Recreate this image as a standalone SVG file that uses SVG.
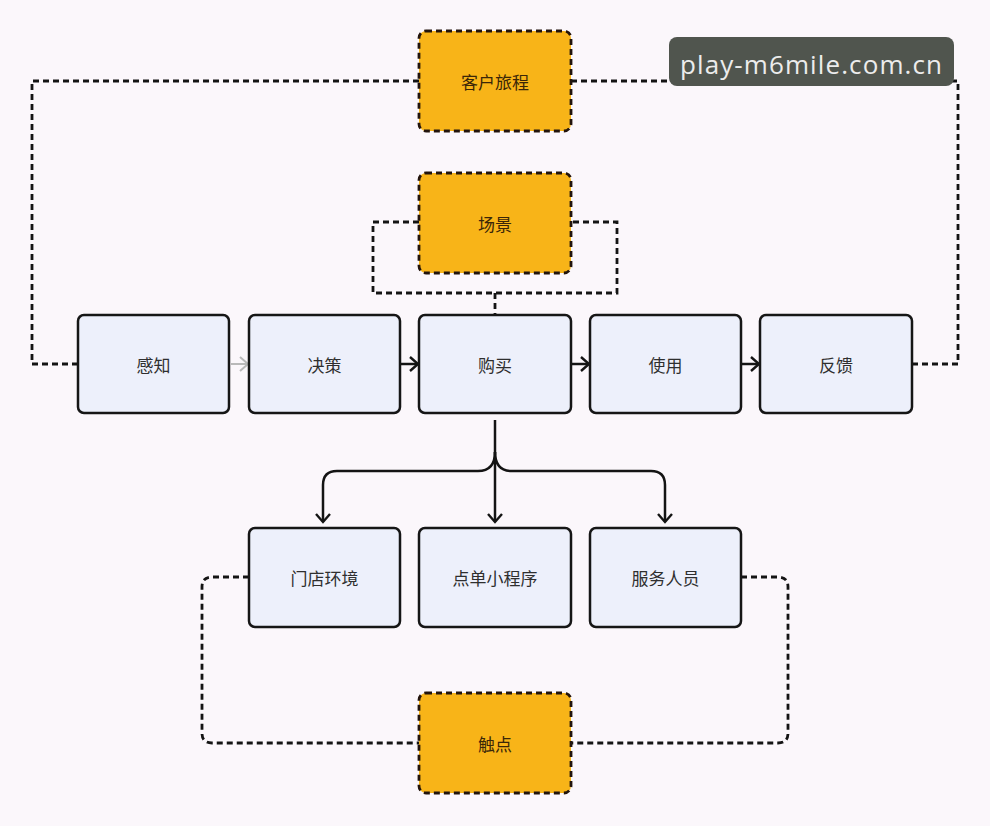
<svg xmlns="http://www.w3.org/2000/svg" width="990" height="826" viewBox="0 0 990 826">
<defs>
<style>
.n rect{fill:#edf0fb;stroke:#161616;stroke-width:2.5}
.o rect{fill:#f8b418;stroke:#22140c;stroke-width:2.8;stroke-dasharray:6 4}
.t{font-family:"Noto Sans CJK SC","Noto Sans",sans-serif;font-size:17px;fill:#2f2f2f;text-anchor:middle;dominant-baseline:central}
.ot{fill:#3a2608}
.d{fill:none;stroke:#141414;stroke-width:2.8;stroke-dasharray:6 4}
.a{fill:none;stroke:#141414;stroke-width:2.5}
</style>
<marker id="ah" viewBox="0 0 12 16" refX="10" refY="8" markerWidth="12" markerHeight="16" markerUnits="userSpaceOnUse" orient="auto">
<path d="M2,1 L10,8 L2,15" fill="none" stroke="#141414" stroke-width="2.4"/>
</marker>
<marker id="ahg" viewBox="0 0 12 16" refX="10" refY="8" markerWidth="12" markerHeight="16" markerUnits="userSpaceOnUse" orient="auto">
<path d="M2,1 L10,8 L2,15" fill="none" stroke="#b9b9b9" stroke-width="2"/>
</marker>
</defs>
<rect width="990" height="826" fill="#fbf7fb"/>
<g id="connectors">
<path class="d" d="M419,81 H32 V364 H78"/>
<path class="d" d="M571,81 H958 V364 H912"/>
<path class="d" d="M419,222 H373 V293 H617 V222 H571"/>
<path class="d" d="M495,293 V315"/>
<path class="d" d="M249,577 H212 Q202,577 202,587 V733 Q202,743 212,743 H419"/>
<path class="d" d="M741,577 H778 Q788,577 788,587 V733 Q788,743 778,743 H571"/>
<path d="M231,364 H248" fill="none" stroke="#b9b9b9" stroke-width="2" marker-end="url(#ahg)"/>
<path class="a" d="M400,364 H418" marker-end="url(#ah)"/>
<path class="a" d="M571,364 H589" marker-end="url(#ah)"/>
<path class="a" d="M741,364 H759" marker-end="url(#ah)"/>
<path class="a" d="M495,420 V522" marker-end="url(#ah)"/>
<path class="a" d="M495,452 Q495,471 478,471 H337 Q323,471 323,485 V522" marker-end="url(#ah)"/>
<path class="a" d="M495,452 Q495,471 512,471 H651 Q665,471 665,485 V522" marker-end="url(#ah)"/>
</g>
<g id="journey" class="o"><rect x="419" y="31" width="152" height="100" rx="7"/><text class="t ot" x="495" y="81">客户旅程</text></g>
<g id="scene" class="o"><rect x="419" y="173" width="152" height="100" rx="7"/><text class="t ot" x="495" y="223">场景</text></g>
<g id="touch" class="o"><rect x="419" y="693" width="152" height="100" rx="7"/><text class="t ot" x="495" y="743">触点</text></g>
<g id="aware" class="n"><rect x="78" y="315" width="151" height="98" rx="6"/><text class="t" x="153.5" y="364">感知</text></g>
<g id="decide" class="n"><rect x="249" y="315" width="151" height="98" rx="6"/><text class="t" x="324.5" y="364">决策</text></g>
<g id="buy" class="n"><rect x="419" y="315" width="152" height="98" rx="6"/><text class="t" x="495" y="364">购买</text></g>
<g id="use" class="n"><rect x="590" y="315" width="151" height="98" rx="6"/><text class="t" x="665.5" y="364">使用</text></g>
<g id="feedback" class="n"><rect x="760" y="315" width="152" height="98" rx="6"/><text class="t" x="836" y="364">反馈</text></g>
<g id="store" class="n"><rect x="249" y="528" width="151" height="99" rx="6"/><text class="t" x="324.5" y="577">门店环境</text></g>
<g id="miniapp" class="n"><rect x="419" y="528" width="152" height="99" rx="6"/><text class="t" x="495" y="577">点单小程序</text></g>
<g id="staff" class="n"><rect x="590" y="528" width="151" height="99" rx="6"/><text class="t" x="665.5" y="577">服务人员</text></g>
<g id="watermark"><rect x="669" y="37" width="285" height="49" rx="8" fill="#50554e"/><text x="811" y="74" font-family="'Open Sans','Noto Sans',sans-serif" font-size="26" fill="#ececec" text-anchor="middle" textLength="262">play-m6mile.com.cn</text></g>
</svg>
